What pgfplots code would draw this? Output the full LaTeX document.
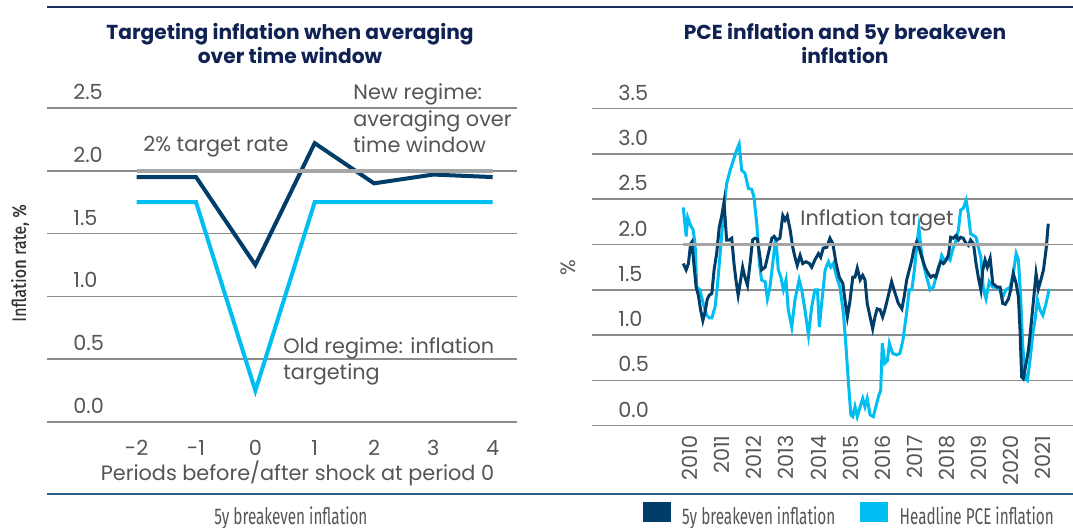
\documentclass[border=0pt]{standalone}
\usepackage{fontspec}
\setmainfont{Poppins}
\newfontfamily\condfont[FakeStretch=0.67]{Fira Sans}
\newfontfamily\ylabfontfam[FakeStretch=0.86,FakeBold=0.5]{Fira Sans}
\usepackage{pgfplots}
\pgfplotsset{compat=1.18}
\definecolor{navyline}{RGB}{0,61,104}
\definecolor{cyanline}{RGB}{0,189,242}
\definecolor{targetgray}{RGB}{166,166,166}
\definecolor{gridgray}{RGB}{140,140,140}
\definecolor{titlenavy}{RGB}{16,34,84}
\definecolor{textgray}{RGB}{85,85,85}
\definecolor{toprule}{RGB}{27,45,92}
\definecolor{botrule}{RGB}{46,95,140}
\newcommand{\tickfont}{\fontsize{10.4}{13}\selectfont}
\newcommand{\titlefont}{\fontsize{10.1}{12}\selectfont\bfseries}
\newcommand{\legfont}{\condfont\fontsize{11.4}{13}\selectfont}

\pgfplotstableread{
yr v
2009.79 2.41
2009.88 2.09
2009.93 2.30
2010.02 2.21
2010.10 2.16
2010.16 1.99
2010.21 1.53
2010.31 1.50
2010.41 1.35
2010.52 1.22
2010.60 1.19
2010.68 1.19
2010.78 1.31
2010.85 1.53
2010.93 1.86
2011.04 2.34
2011.14 2.67
2011.25 2.82
2011.35 2.93
2011.45 3.04
2011.53 3.11
2011.61 2.82
2011.71 2.79
2011.82 2.62
2011.92 2.61
2011.99 2.53
2012.08 2.23
2012.16 1.79
2012.23 1.61
2012.34 1.59
2012.41 1.40
2012.49 1.53
2012.60 1.86
2012.67 2.08
2012.75 1.72
2012.83 1.64
2012.91 1.50
2012.99 1.61
2013.06 1.28
2013.17 1.09
2013.27 1.39
2013.40 1.61
2013.48 1.50
2013.58 1.28
2013.69 1.00
2013.79 1.31
2013.89 1.50
2013.97 1.50
2014.03 1.09
2014.10 1.35
2014.21 1.72
2014.31 1.81
2014.38 1.75
2014.46 1.79
2014.57 1.64
2014.67 1.53
2014.78 1.24
2014.86 0.87
2014.93 0.50
2015.01 0.12
2015.07 0.10
2015.14 0.21
2015.21 0.10
2015.30 0.21
2015.38 0.30
2015.45 0.21
2015.52 0.30
2015.61 0.12
2015.71 0.10
2015.79 0.21
2015.87 0.32
2015.94 0.39
2015.99 0.91
2016.07 0.69
2016.15 0.72
2016.21 0.91
2016.31 0.80
2016.44 0.78
2016.54 0.80
2016.63 0.94
2016.73 1.20
2016.83 1.50
2016.91 1.50
2016.99 1.72
2017.06 1.97
2017.13 2.19
2017.20 1.94
2017.27 1.79
2017.37 1.64
2017.48 1.50
2017.58 1.53
2017.66 1.64
2017.74 1.72
2017.84 1.88
2017.94 1.81
2018.02 1.86
2018.10 1.83
2018.18 1.94
2018.29 2.05
2018.36 2.16
2018.43 2.38
2018.51 2.40
2018.60 2.49
2018.67 2.34
2018.74 2.12
2018.83 2.10
2018.91 2.08
2018.98 1.97
2019.06 1.86
2019.14 1.50
2019.22 1.40
2019.32 1.59
2019.43 1.53
2019.53 1.53
2019.64 1.50
2019.74 1.42
2019.84 1.50
2019.97 1.53
2020.07 1.68
2020.16 1.90
2020.23 1.83
2020.30 1.42
2020.36 0.91
2020.44 0.52
2020.51 0.50
2020.59 0.72
2020.68 1.02
2020.75 1.17
2020.82 1.39
2020.90 1.28
2020.99 1.22
2021.09 1.35
2021.19 1.51
}\pcetable

\pgfplotstableread{
yr v
2009.79 1.79
2009.88 1.72
2009.95 1.79
2010.02 2.01
2010.06 2.03
2010.12 1.79
2010.19 1.53
2010.26 1.44
2010.33 1.28
2010.40 1.16
2010.47 1.26
2010.54 1.40
2010.60 1.44
2010.68 1.46
2010.75 1.72
2010.83 1.90
2010.91 2.19
2010.99 2.32
2011.06 2.47
2011.14 2.05
2011.22 2.05
2011.30 2.07
2011.37 1.79
2011.43 1.61
2011.50 1.44
2011.56 1.57
2011.64 1.75
2011.71 1.64
2011.79 1.55
2011.87 1.79
2011.95 2.05
2012.02 2.07
2012.10 2.06
2012.18 1.86
2012.23 1.72
2012.34 1.75
2012.44 1.90
2012.55 2.07
2012.62 2.09
2012.70 2.05
2012.80 2.07
2012.89 2.32
2012.96 2.27
2013.03 2.32
2013.12 2.16
2013.20 1.97
2013.27 1.86
2013.34 1.77
2013.43 1.88
2013.51 1.79
2013.61 1.81
2013.72 1.79
2013.79 1.75
2013.89 1.83
2014.00 1.90
2014.07 1.86
2014.15 1.96
2014.26 1.97
2014.36 2.07
2014.45 2.01
2014.55 1.79
2014.65 1.64
2014.76 1.57
2014.84 1.35
2014.90 1.20
2014.98 1.37
2015.07 1.64
2015.14 1.64
2015.21 1.74
2015.30 1.61
2015.38 1.66
2015.45 1.61
2015.52 1.35
2015.61 1.20
2015.69 1.07
2015.76 1.20
2015.83 1.29
2015.92 1.28
2016.00 1.20
2016.07 1.28
2016.18 1.44
2016.28 1.59
2016.39 1.46
2016.49 1.35
2016.60 1.29
2016.67 1.42
2016.75 1.61
2016.83 1.72
2016.91 1.83
2016.98 1.96
2017.06 2.03
2017.13 1.97
2017.22 1.86
2017.32 1.75
2017.42 1.68
2017.50 1.64
2017.58 1.66
2017.66 1.64
2017.74 1.75
2017.81 1.81
2017.89 1.79
2017.98 1.83
2018.05 1.88
2018.12 2.08
2018.20 2.07
2018.29 2.10
2018.36 2.05
2018.43 2.08
2018.51 2.07
2018.60 2.01
2018.67 1.99
2018.74 2.05
2018.83 2.01
2018.91 1.79
2018.98 1.64
2019.06 1.50
2019.12 1.72
2019.19 1.83
2019.26 1.75
2019.35 1.85
2019.43 1.57
2019.50 1.55
2019.57 1.53
2019.66 1.53
2019.74 1.35
2019.82 1.34
2019.92 1.40
2019.99 1.50
2020.07 1.68
2020.16 1.57
2020.23 1.42
2020.28 1.06
2020.33 0.54
2020.38 0.52
2020.47 0.69
2020.54 0.83
2020.61 1.06
2020.69 1.35
2020.78 1.68
2020.85 1.51
2020.93 1.61
2021.01 1.72
2021.09 1.94
2021.16 2.23
}\bkeventable

\begin{document}
\begin{tikzpicture}
\useasboundingbox (0pt,0pt) rectangle (536.5pt,264pt);

% ---------- left panel ----------
\begin{axis}[
  at={(23.5pt,53pt)}, anchor=south west,
  scale only axis, width=235pt, height=157pt,
  xmin=-3.512, xmax=4.41, ymin=0, ymax=2.5,
  axis line style={draw=none},
  major tick length=0pt,
  ytick={0,0.5,1,1.5,2,2.5},
  yticklabels={0.0,0.5,1.0,1.5,2.0,2.5},
  xtick={-2,-1,0,1,2,3,4},
  xticklabels={-2,-1,0,1,2,3,4},
  ymajorgrids, grid style={gridgray, line width=0.8pt},
  yticklabel style={anchor=south west, inner sep=0pt, xshift=13pt, yshift=4pt, font=\tickfont, text=textgray},
  xticklabel style={anchor=north, inner sep=0pt, yshift=-9pt, font=\tickfont, text=textgray},
  clip=false,
]
\addplot[navyline, line width=2pt, line join=miter] coordinates {(-2,1.95) (-1,1.95) (0,1.25) (1,2.22) (2,1.90) (3,1.97) (4,1.95)};
\addplot[cyanline, line width=2pt, line join=miter] coordinates {(-2,1.75) (-1,1.75) (0,0.25) (1,1.75) (2,1.75) (3,1.75) (4,1.75)};
\addplot[targetgray, line width=2pt] coordinates {(-2,2) (4,2)};
\end{axis}

% ---------- right panel ----------
\begin{axis}[
  at={(296pt,51.15pt)}, anchor=south west,
  scale only axis, width=240.5pt, height=158.5pt,
  xmin=2006.947, xmax=2021.93, ymin=0, ymax=3.5,
  axis line style={draw=none},
  major tick length=0pt,
  ytick={0,0.5,1,1.5,2,2.5,3,3.5},
  yticklabels={0.0,0.5,1.0,1.5,2.0,2.5,3.0,3.5},
  xtick={2010,2011,2012,2013,2014,2015,2016,2017,2018,2019,2020,2021},
  xticklabels={2010,2011,2012,2013,2014,2015,2016,2017,2018,2019,2020,2021},
  ymajorgrids, grid style={gridgray, line width=0.8pt},
  yticklabel style={anchor=south west, inner sep=0pt, xshift=13pt, yshift=4pt, font=\tickfont, text=textgray},
  xticklabel style={yshift=-4.7pt, rotate=90, anchor=east, inner sep=0pt, font=\tickfont, text=textgray},
  clip=false,
  legend columns=-1,
  legend cell align=left,
  legend image code/.code={\fill (0pt,-2.4pt) rectangle (13.5pt,7.1pt);},
  legend style={at={(0.1054,-0.321)}, anchor=south west, draw=none, fill=none,
    inner sep=0pt, outer sep=0pt, font=\legfont, text=textgray,
    nodes={inner sep=0pt},
    /tikz/every odd column/.append style={column sep=5.85pt},
    /tikz/every even column/.append style={column sep=12.5pt}},
]
\addplot[cyanline, line width=1.5pt, forget plot] table[x=yr, y=v] {\pcetable};
\addplot[navyline, line width=1.5pt, forget plot] table[x=yr, y=v] {\bkeventable};
\addplot[targetgray, line width=1.7pt, forget plot] coordinates {(2009.79,2) (2021.19,2)};
\addlegendimage{navyline}
\addlegendentry{5y breakeven inflation}
\addlegendimage{cyanline}
\addlegendentry{Headline PCE inflation}
\end{axis}

% ---------- rules ----------
\draw[toprule, line width=1pt] (23.5pt,260.65pt) -- (536.5pt,260.65pt);
\draw[botrule, line width=0.8pt] (23.5pt,17pt) -- (536.5pt,17pt);

% ---------- titles ----------
\node[anchor=base, font=\titlefont, text=titlenavy] at (145pt,244.35pt) {Targeting inflation when averaging};
\node[anchor=base, font=\titlefont, text=titlenavy] at (145pt,232.35pt) {over time window};
\node[anchor=base, font=\titlefont, text=titlenavy] at (422.5pt,244.35pt) {PCE inflation and 5y breakeven};
\node[anchor=base, font=\titlefont, text=titlenavy] at (422.5pt,232.35pt) {inflation};

% ---------- annotations ----------
\node[anchor=base west, inner sep=0pt, font=\tickfont, text=textgray] at (71.5pt,188.25pt) {2\% target rate};
\node[anchor=base west, inner sep=0pt, font=\tickfont, text=textgray] at (176.5pt,214pt) {New regime:};
\node[anchor=base west, inner sep=0pt, font=\tickfont, text=textgray] at (176.5pt,200.75pt) {averaging over};
\node[anchor=base west, inner sep=0pt, font=\tickfont, text=textgray] at (176.5pt,187.5pt) {time window};
\node[anchor=base west, inner sep=0pt, font=\tickfont, text=textgray] at (141.5pt,87pt) {Old regime: inflation};
\node[anchor=base west, inner sep=0pt, font=\tickfont, text=textgray] at (141.5pt,74pt) {targeting};
\node[anchor=base west, inner sep=0pt, font=\tickfont, text=textgray] at (400pt,151pt) {Inflation target};

% ---------- axis labels ----------
\node[anchor=base, inner sep=0pt, font=\tickfont, text=textgray] at (148.75pt,23.5pt) {Periods before/after shock at period 0};
\node[rotate=90, inner sep=0pt, font=\ylabfontfam\fontsize{9.5}{11}\selectfont, text=black!80] at (10pt,132.5pt) {Inflation rate, \%};
\node[rotate=90, inner sep=0pt, font=\tickfont, text=textgray] at (284pt,130pt) {\%};
\node[anchor=base west, inner sep=0pt, font=\legfont, text=textgray] at (107pt,1.6pt) {5y breakeven inflation};
\end{tikzpicture}
\end{document}
